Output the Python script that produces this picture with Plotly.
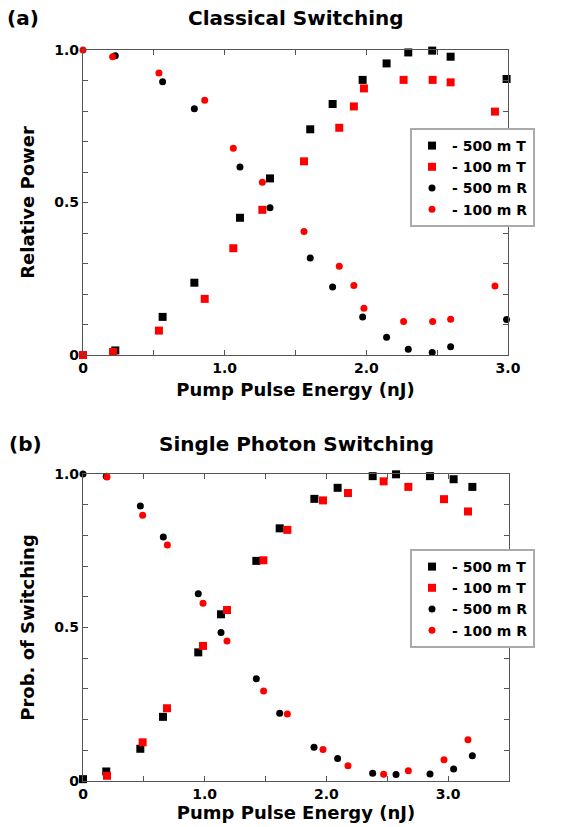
import plotly.graph_objects as go

# ---------- (a) Classical Switching ----------
a_500T_x = [0.228, 0.562, 0.786, 1.108, 1.320, 1.604, 1.762, 1.974, 2.143, 2.296, 2.465, 2.595, 2.990]
a_500T_y = [0.015, 0.125, 0.237, 0.450, 0.579, 0.740, 0.823, 0.902, 0.956, 0.992, 0.998, 0.978, 0.905]
a_100T_x = [0.0, 0.212, 0.536, 0.859, 1.061, 1.266, 1.560, 1.809, 1.912, 1.983, 2.263, 2.468, 2.595, 2.908]
a_100T_y = [0.0, 0.010, 0.080, 0.184, 0.350, 0.476, 0.635, 0.745, 0.815, 0.874, 0.902, 0.902, 0.894, 0.798]
a_500R_x = [0.228, 0.562, 0.786, 1.108, 1.320, 1.604, 1.762, 1.974, 2.143, 2.296, 2.465, 2.595, 2.990]
a_500R_y = [0.981, 0.896, 0.807, 0.616, 0.483, 0.318, 0.223, 0.125, 0.058, 0.019, 0.008, 0.027, 0.116]
a_100R_x = [0.0, 0.209, 0.536, 0.859, 1.061, 1.266, 1.560, 1.809, 1.912, 1.983, 2.263, 2.468, 2.595, 2.908]
a_100R_y = [1.0, 0.978, 0.925, 0.835, 0.678, 0.566, 0.405, 0.291, 0.228, 0.153, 0.110, 0.110, 0.117, 0.226]

# ---------- (b) Single Photon Switching ----------
b_500T_x = [0.0, 0.191, 0.471, 0.657, 0.947, 1.134, 1.424, 1.616, 1.901, 2.092, 2.380, 2.572, 2.851, 3.045, 3.199]
b_500T_y = [0.006, 0.031, 0.105, 0.209, 0.419, 0.543, 0.717, 0.823, 0.919, 0.955, 0.993, 0.999, 0.993, 0.983, 0.958]
b_100T_x = [0.197, 0.490, 0.690, 0.986, 1.183, 1.482, 1.679, 1.972, 2.177, 2.470, 2.673, 2.966, 3.163]
b_100T_y = [0.017, 0.126, 0.237, 0.440, 0.557, 0.719, 0.818, 0.914, 0.938, 0.976, 0.958, 0.918, 0.878]
b_500R_x = [0.0, 0.191, 0.471, 0.660, 0.947, 1.134, 1.424, 1.616, 1.898, 2.092, 2.380, 2.572, 2.851, 3.045, 3.199]
b_500R_y = [1.0, 0.993, 0.896, 0.795, 0.610, 0.484, 0.333, 0.221, 0.110, 0.073, 0.025, 0.021, 0.023, 0.039, 0.082]
b_100R_x = [0.197, 0.490, 0.693, 0.986, 1.183, 1.484, 1.679, 1.972, 2.177, 2.470, 2.673, 2.966, 3.163]
b_100R_y = [0.990, 0.866, 0.769, 0.579, 0.456, 0.293, 0.218, 0.103, 0.050, 0.022, 0.033, 0.069, 0.134]

legend_names = ["- 500 m T", "- 100 m T", "- 500 m R", "- 100 m R"]
colors = ["#000000", "#ff0000", "#000000", "#ff0000"]
symbols = ["square", "square", "circle", "circle"]
sizes = [8, 8, 7, 7]

FONT = "DejaVu Sans"
fig = go.Figure()

series_a = [(a_500T_x, a_500T_y), (a_100T_x, a_100T_y), (a_500R_x, a_500R_y), (a_100R_x, a_100R_y)]
series_b = [(b_500T_x, b_500T_y), (b_100T_x, b_100T_y), (b_500R_x, b_500R_y), (b_100R_x, b_100R_y)]

for i, (xs, ys) in enumerate(series_a):
    fig.add_trace(go.Scatter(x=xs, y=ys, mode="markers", name=legend_names[i],
                             marker=dict(color=colors[i], symbol=symbols[i], size=sizes[i]),
                             xaxis="x", yaxis="y", legend="legend", cliponaxis=False))
for i, (xs, ys) in enumerate(series_b):
    fig.add_trace(go.Scatter(x=xs, y=ys, mode="markers", name=legend_names[i],
                             marker=dict(color=colors[i], symbol=symbols[i], size=sizes[i]),
                             xaxis="x2", yaxis="y2", legend="legend2", cliponaxis=False))

tickfont = dict(family=FONT, size=14, color="black", weight="bold")
titlefont = dict(family=FONT, size=18, color="black", weight="bold")

def yax(domain, anchor, title):
    vals = [round(0.1 * k, 1) for k in range(11)]
    text = ["0" if v == 0 else ("0.5" if v == 0.5 else ("1.0" if v == 1.0 else "")) for v in vals]
    return dict(domain=domain, anchor=anchor, range=[0, 1.0], tickvals=vals, ticktext=text,
                ticks="inside", ticklen=5, tickcolor="#555", showline=True, linecolor="#555",
                linewidth=1.2, mirror="allticks", showgrid=False, zeroline=False,
                automargin=False, tickfont=tickfont,
                title=dict(text=title, font=titlefont, standoff=14))

def xax(domain, anchor, xmax, title, standoff):
    n = int(round(xmax / 0.5))
    vals = [0.5 * k for k in range(n + 1)]
    text = ["0" if v == 0 else (f"{v:.1f}" if v == int(v) else "") for v in vals]
    return dict(domain=domain, anchor=anchor, range=[0, xmax], tickvals=vals, ticktext=text,
                ticks="inside", ticklen=5, tickcolor="#555", showline=True, linecolor="#555",
                linewidth=1.2, mirror="allticks", showgrid=False, zeroline=False,
                automargin=False, tickfont=tickfont,
                title=dict(text=title, font=titlefont, standoff=standoff))

W, H = 566, 827
legfont = dict(family=FONT, size=14, color="black", weight="bold")
bigfont = dict(family=FONT, size=20, color="black", weight="bold")
fig.update_layout(
    template="none",
    width=W, height=H, margin=dict(l=0, r=0, t=0, b=0, autoexpand=False),
    paper_bgcolor="white", plot_bgcolor="white",
    font=dict(family=FONT, color="black"),
    xaxis=xax([83 / W, 508 / W], "y", 3.0, "Pump Pulse Energy (nJ)", 8),
    yaxis=yax([1 - 355 / H, 1 - 50 / H], "x", "Relative Power"),
    xaxis2=xax([83 / W, 509 / W], "y2", 3.5, "Pump Pulse Energy (nJ)", 5),
    yaxis2=yax([1 - 781 / H, 1 - 474 / H], "x2", "Prob. of Switching"),
    legend=dict(x=410 / W, y=1 - 128 / H, xanchor="left", yanchor="top",
                bordercolor="#aaaaaa", borderwidth=2, bgcolor="white",
                font=legfont, itemwidth=30, tracegroupgap=0),
    legend2=dict(x=410 / W, y=1 - 549 / H, xanchor="left", yanchor="top",
                 bordercolor="#aaaaaa", borderwidth=2, bgcolor="white",
                 font=legfont, itemwidth=30, tracegroupgap=0),
    annotations=[
        dict(text="Classical Switching", x=295.5 / W, y=1 - 18 / H, xref="paper", yref="paper",
             xanchor="center", yanchor="middle", showarrow=False, font=bigfont),
        dict(text="(a)", x=23 / W, y=1 - 18 / H, xref="paper", yref="paper",
             xanchor="center", yanchor="middle", showarrow=False, font=bigfont),
        dict(text="Single Photon Switching", x=296 / W, y=1 - 444 / H, xref="paper", yref="paper",
             xanchor="center", yanchor="middle", showarrow=False, font=bigfont),
        dict(text="(b)", x=25 / W, y=1 - 444 / H, xref="paper", yref="paper",
             xanchor="center", yanchor="middle", showarrow=False, font=bigfont),
    ],
)

fig.write_html("out.html")
